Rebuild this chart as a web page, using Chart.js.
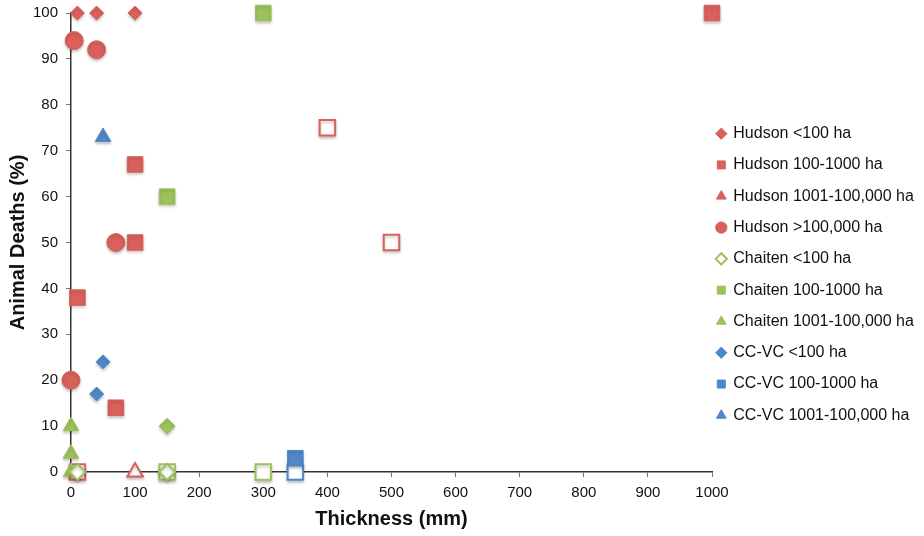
<!DOCTYPE html>
<html>
<head>
<meta charset="utf-8">
<script src="https://cdn.jsdelivr.net/npm/chart.js@4/dist/chart.umd.min.js"></script>
<style>
  html, body { margin: 0; padding: 0; background: #ffffff; }
  #wrap { width: 924px; height: 536px; }
</style>
</head>
<body>
<div id="wrap"><canvas id="c" width="924" height="536"></canvas></div>
<script>
// ---------- data ----------
const xTitle = 'Thickness (mm)';
const yTitle = 'Animal Deaths (%)';

const hudsonSmallX = [10, 40, 100];
const hudsonSmallY = [100, 100, 100];

const hudsonMidX = [1000, 100, 100, 10, 70];
const hudsonMidY = [100, 67, 50, 38, 14];
const hudsonMidOpenX = [400, 500, 10];
const hudsonMidOpenY = [75, 50, 0];

const hudsonLargeX = [];
const hudsonLargeY = [];
const hudsonLargeOpenX = [100];
const hudsonLargeOpenY = [0];

const hudsonHugeX = [5, 40, 70, 0];
const hudsonHugeY = [94, 92, 50, 20];

const chaitenSmallOpenX = [150, 10];
const chaitenSmallOpenY = [0, 0];
const chaitenSmallX = [150];
const chaitenSmallY = [10];

const chaitenMidX = [300, 150];
const chaitenMidY = [100, 60];
const chaitenMidOpenX = [150, 300];
const chaitenMidOpenY = [0, 0];

const chaitenLargeX = [0, 0, 0];
const chaitenLargeY = [10, 4, 0];

const ccvcSmallX = [50, 40];
const ccvcSmallY = [24, 17];

const ccvcMidX = [350];
const ccvcMidY = [3];
const ccvcMidOpenX = [350];
const ccvcMidOpenY = [0];

const ccvcLargeX = [50];
const ccvcLargeY = [73];

const xTicks = [0, 100, 200, 300, 400, 500, 600, 700, 800, 900, 1000];
const yTicks = [0, 10, 20, 30, 40, 50, 60, 70, 80, 90, 100];

// ---------- styling ----------
const RED = '#D9605B';
const GREEN = '#9CC25B';
const BLUE = '#4F88C9';

function pts(xs, ys) { return xs.map((x, i) => ({ x: x, y: ys[i] })); }

function ds(label, xs, ys, color, style, radius, open, inLegend) {
  return {
    label: label,
    data: pts(xs, ys),
    pointStyle: style,
    pointRadius: radius,
    pointHoverRadius: radius,
    backgroundColor: open ? '#ffffff' : color,
    borderColor: color,
    pointBackgroundColor: open ? '#ffffff' : color,
    pointBorderColor: color,
    borderWidth: open ? 2 : 1,
    pointBorderWidth: open ? 2 : 1,
    showLine: false,
    clip: false,
    inLegend: inLegend
  };
}

const datasets = [
  ds('Hudson <100 ha', hudsonSmallX, hudsonSmallY, RED, 'rectRot', 7, false, true),
  ds('Hudson 100-1000 ha', hudsonMidX, hudsonMidY, RED, 'rect', 11, false, true),
  ds('Hudson 1001-100,000 ha', hudsonLargeX, hudsonLargeY, RED, 'triangle', 9, false, true),
  ds('Hudson >100,000 ha', hudsonHugeX, hudsonHugeY, RED, 'circle', 9, false, true),
  ds('Chaiten <100 ha', chaitenSmallOpenX, chaitenSmallOpenY, GREEN, 'rectRot', 8, true, true),
  ds('Chaiten 100-1000 ha', chaitenMidX, chaitenMidY, GREEN, 'rect', 11, false, true),
  ds('Chaiten 1001-100,000 ha', chaitenLargeX, chaitenLargeY, GREEN, 'triangle', 9, false, true),
  ds('CC-VC <100 ha', ccvcSmallX, ccvcSmallY, BLUE, 'rectRot', 7, false, true),
  ds('CC-VC 100-1000 ha', ccvcMidX, ccvcMidY, BLUE, 'rect', 11, false, true),
  ds('CC-VC 1001-100,000 ha', ccvcLargeX, ccvcLargeY, BLUE, 'triangle', 9, false, true),
  // extra point formats (not in the legend)
  ds('Hudson 100-1000 ha (open)', hudsonMidOpenX, hudsonMidOpenY, RED, 'rect', 11, true, false),
  ds('Hudson 1001-100,000 ha (open)', hudsonLargeOpenX, hudsonLargeOpenY, RED, 'triangle', 9, true, false),
  ds('Chaiten <100 ha (filled)', chaitenSmallX, chaitenSmallY, GREEN, 'rectRot', 8, false, false),
  ds('Chaiten 100-1000 ha (open)', chaitenMidOpenX, chaitenMidOpenY, GREEN, 'rect', 11, true, false),
  ds('CC-VC 100-1000 ha (open)', ccvcMidOpenX, ccvcMidOpenY, BLUE, 'rect', 11, true, false)
];

const FONT = "'Liberation Sans', Arial, Helvetica, sans-serif";

const legendShift = {
  id: 'legendShift',
  afterLayout(chart) {
    if (chart.legend) {
      chart.legend.left -= 10;
      chart.legend.right -= 10;
    }
  }
};

const markerShadow = {
  id: 'markerShadow',
  beforeDatasetDraw(chart) {
    const ctx = chart.ctx;
    ctx.save();
    ctx.shadowColor = 'rgba(0,0,0,0.22)';
    ctx.shadowBlur = 3;
    ctx.shadowOffsetX = 0;
    ctx.shadowOffsetY = 2;
  },
  afterDatasetDraw(chart) {
    chart.ctx.restore();
  }
};

new Chart(document.getElementById('c'), {
  type: 'scatter',
  data: { datasets: datasets },
  plugins: [legendShift, markerShadow],
  options: {
    responsive: false,
    animation: false,
    events: [],
    layout: { autoPadding: false, padding: { top: 13, right: 0, bottom: 0, left: 0 } },
    plugins: {
      tooltip: { enabled: false },
      legend: {
        position: 'right',
        align: 'center',
        maxWidth: 212,
        labels: {
          usePointStyle: true,
          boxWidth: 8,
          boxHeight: 8,
          padding: 15.3,
          color: '#111111',
          font: { family: FONT, size: 16 },
          filter: (item, data) => data.datasets[item.datasetIndex].inLegend
        }
      }
    },
    scales: {
      x: {
        type: 'linear',
        min: 0,
        max: 1000,
        afterBuildTicks: (s) => { s.ticks = xTicks.map(v => ({ value: v })); },
        afterFit: (s) => { s.height = 64; },
        border: { display: true, color: '#333333', width: 1.5 },
        grid: { display: true, drawOnChartArea: false, drawTicks: true, tickLength: 5, color: '#777777' },
        ticks: { color: '#111111', font: { family: FONT, size: 15 }, padding: 7, maxRotation: 0, callback: (v) => String(v) },
        title: { display: true, text: xTitle, color: '#111111', font: { family: FONT, size: 20, weight: 'bold' }, padding: { top: 4, bottom: 5 } }
      },
      y: {
        type: 'linear',
        min: 0,
        max: 100,
        afterBuildTicks: (s) => { s.ticks = yTicks.map(v => ({ value: v })); },
        afterFit: (s) => { s.width = 71; s.paddingTop = 0; s.paddingBottom = 0; },
        border: { display: true, color: '#333333', width: 1.5 },
        grid: { display: true, drawOnChartArea: false, drawTicks: true, tickLength: 5, color: '#777777' },
        ticks: { color: '#111111', font: { family: FONT, size: 15 }, padding: 8, callback: (v) => String(v) },
        title: { display: true, text: yTitle, color: '#111111', font: { family: FONT, size: 20, weight: 'bold' }, padding: { top: 6, bottom: 4 } }
      }
    }
  }
});
</script>
</body>
</html>
